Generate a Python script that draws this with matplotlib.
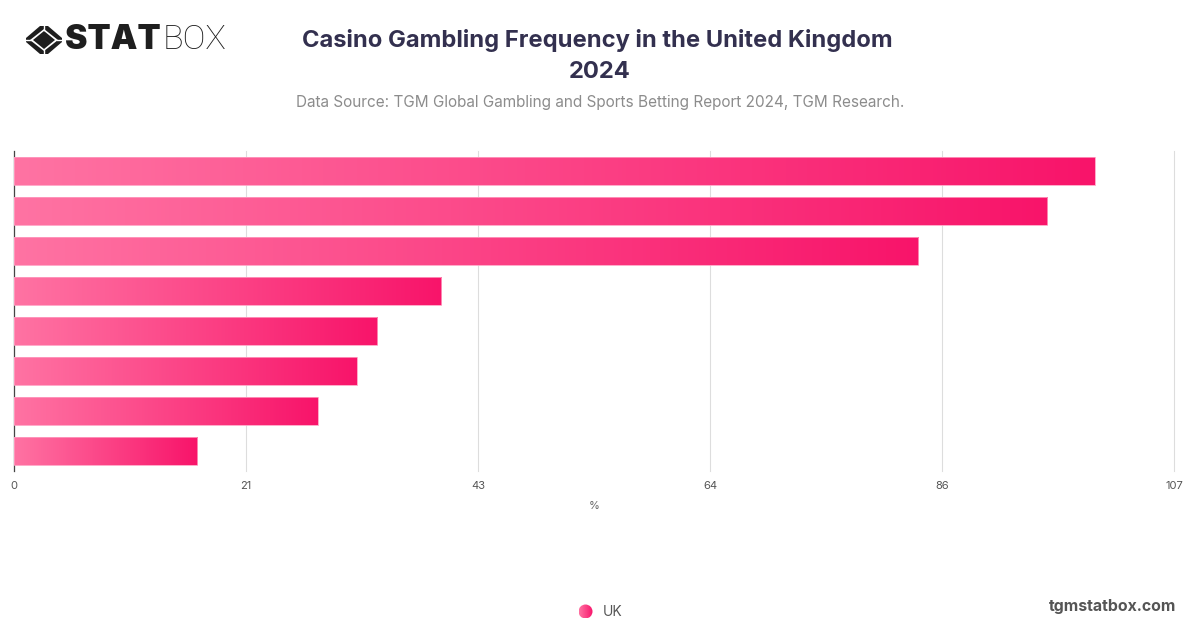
"""Casino gambling frequency bar chart with gradient bars."""

import matplotlib

matplotlib.use("Agg")
import matplotlib.pyplot as plt
import numpy as np
from matplotlib.colors import LinearSegmentedColormap
from matplotlib.patches import Circle, Polygon

W, H = 1200, 628

values = [99.7, 95.3, 83.4, 39.4, 33.5, 31.6, 28.0, 16.9]
x_ticks = [0, 21.4, 42.8, 64.2, 85.6, 107]
x_tick_labels = ["0", "21", "43", "64", "86", "107"]
series_name = "UK"

plt.rcParams["font.family"] = ["Inter", "DejaVu Sans"]
bar_cmap = LinearSegmentedColormap.from_list("bar", ["#ff73a3", "#f8146a"])
grad = np.linspace(0, 1, 256).reshape(1, -1)

fig = plt.figure(figsize=(W / 100, H / 100), dpi=100, facecolor="white")

# chart area, in pixels of the reference
left, right, top, bottom = 14, 1174, 151, 471
ax = fig.add_axes([left / W, 1 - bottom / H, (right - left) / W, (bottom - top) / H])
y_pos = np.arange(len(values))
bars = ax.barh(y_pos, values, height=0.7, facecolor="none", edgecolor="#ff9cc0", linewidth=0.6, zorder=4)
for bar in bars:
    img = ax.imshow(
        grad,
        extent=[bar.get_x(), bar.get_x() + bar.get_width(), bar.get_y(), bar.get_y() + bar.get_height()],
        aspect="auto",
        cmap=bar_cmap,
        zorder=3,
        interpolation="bilinear",
    )
    img.set_clip_path(bar)

ax.set_xlim(0, 107)
ax.set_ylim(len(values) - 0.5, -0.5)
ax.set_xticks(x_ticks)
ax.set_xticklabels(x_tick_labels, fontsize=8, color="#555555")
ax.set_yticks([])
ax.tick_params(axis="x", length=0, pad=7)
ax.grid(axis="x", color="#dddddd", linewidth=0.8, zorder=1, clip_on=False)
ax.set_axisbelow(True)
for side in ["top", "right", "bottom"]:
    ax.spines[side].set_visible(False)
ax.spines["left"].set_color("#444444")
ax.spines["left"].set_linewidth(0.9)

# overlay in pixel coordinates for the title block, logo and legend
ov = fig.add_axes([0, 0, 1, 1], zorder=10)
ov.set_xlim(0, W)
ov.set_ylim(H, 0)
ov.axis("off")

ov.text(597, 41, "Casino Gambling Frequency in the United Kingdom", ha="center", va="center",
        fontsize=17.1, fontweight="bold", color="#33304f")
ov.text(600, 72, "2024", ha="center", va="center", fontsize=17.1, fontweight="bold", color="#33304f")
ov.text(600, 102, "Data Source: TGM Global Gambling and Sports Betting Report 2024, TGM Research.",
        ha="center", va="center", fontsize=11.05, color="#8c8c8c")
ov.text(594, 506, "%", ha="center", va="center", fontsize=8, color="#666666")

# logo
ov.add_patch(Polygon([(40, 26), (48, 26), (62, 38), (62, 42), (48, 54), (40, 54), (26, 42), (26, 38)],
                     closed=True, facecolor="#1e1e1e", edgecolor="none"))
ov.add_patch(Polygon([(44, 29), (58, 40), (44, 51), (30, 40)], closed=True, facecolor="white", edgecolor="none"))
ov.add_patch(Polygon([(44, 31), (55, 40), (44, 49), (33, 40)], closed=True, facecolor="#1e1e1e", edgecolor="none"))
ov.plot([44, 44], [25, 30], color="white", lw=1)
ov.plot([44, 44], [50, 55], color="white", lw=1)
ov.plot([25, 31], [40, 40], color="white", lw=1)
ov.plot([57, 63], [40, 40], color="white", lw=1)
ov.text(65, 40, "STAT", ha="left", va="center", fontsize=24.3, fontweight="black", color="#1e1e1e",
        family=["Inter", "DejaVu Sans"])
ov.text(163, 40, "BOX", ha="left", va="center", fontsize=24.6, fontweight="light", color="#1e1e1e",
        family=["Roboto", "DejaVu Sans"])

# legend
dot = Circle((585.5, 611.5), 7, facecolor="none", edgecolor="none")
ov.add_patch(dot)
dot_img = ov.imshow(grad, extent=[578.5, 592.5, 618.5, 604.5], aspect="auto", cmap=bar_cmap, zorder=3)
dot_img.set_clip_path(dot)
ov.set_xlim(0, W)
ov.set_ylim(H, 0)
ov.text(603, 611.5, series_name, ha="left", va="center", fontsize=10, color="#555555")
ov.text(1176.5, 606, "tgmstatbox.com", ha="right", va="center", fontsize=11.4, fontweight="bold", color="#555555")

fig.savefig("out.png", dpi=100)
